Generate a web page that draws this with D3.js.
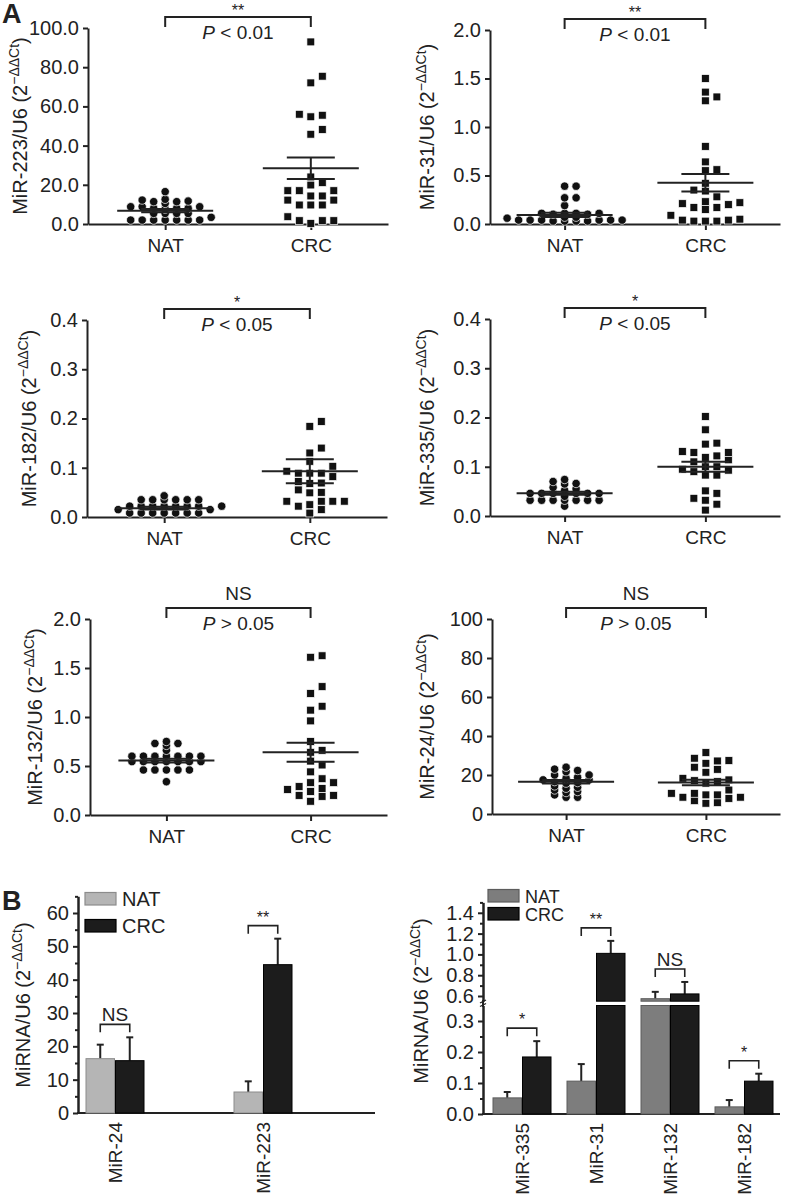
<!DOCTYPE html>
<html><head><meta charset="utf-8">
<script src="https://cdn.jsdelivr.net/npm/d3@7"></script>
<style>
body{margin:0;background:#fff}
svg{display:block}
text{font-family:"Liberation Sans",Arial,Helvetica,sans-serif;fill:#222}
</style>
</head><body>
<svg id="c" width="787" height="1198"></svg>
<script>
// ---------------- DATA ----------------
const categories = ["NAT", "CRC"];

// Panel A scatter data
const mir223NAT = [16.5,12.6,12.2,11.4,11.4,11.7,10.5,8.8,8.0,8.8,8.0,8.0,8.8,7.5,3.4,2.0,2.0,2.0,2.0,2.0,2.0,2.0,5.4,5.4,5.4,5.4];
const mir223CRC = [92.9,72.0,75.4,55.5,54.7,56.0,45.8,48.2,24.0,21.1,19.9,17.0,17.0,17.0,14.3,14.3,12.2,12.2,9.7,9.7,9.7,3.7,1.7,1.7,1.7,0.3];
const mir223Mean = [6.8, 28.4], mir223Sem = [0.8, 5.5];
const mir223Ticks = [0,20,40,60,80,100];

const mir31NAT = [0.39,0.39,0.27,0.27,0.19,0.11,0.11,0.10,0.11,0.10,0.11,0.07,0.06,0.07,0.04,0.04,0.03,0.04,0.03,0.04,0.03,0.04,0.03,0.04];
const mir31CRC = [1.50,1.31,1.27,1.36,0.80,0.64,0.55,0.56,0.42,0.35,0.34,0.28,0.22,0.21,0.17,0.15,0.17,0.20,0.23,0.09,0.04,0.03,0.03,0.03,0.04,0.05];
const mir31Mean = [0.093, 0.426], mir31Sem = [0.022, 0.09];
const mir31Ticks = [0,0.5,1.0,1.5,2.0];

const mir182NAT = [0.043,0.035,0.035,0.035,0.035,0.035,0.035,0.022,0.022,0.022,0.022,0.022,0.022,0.022,0.022,0.008,0.008,0.008,0.008,0.008,0.008,0.008,0.015,0.015];
const mir182CRC = [0.184,0.194,0.14,0.13,0.113,0.093,0.089,0.082,0.089,0.089,0.103,0.069,0.072,0.055,0.068,0.05,0.049,0.032,0.032,0.022,0.032,0.015,0.025,0.032,0.008];
const mir182Mean = [0.018, 0.093], mir182Sem = [0.003, 0.0245];
const mir182Ticks = [0,0.1,0.2,0.3,0.4];

const mir335NAT = [0.070,0.074,0.058,0.066,0.065,0.046,0.046,0.046,0.046,0.046,0.046,0.032,0.032,0.032,0.032,0.032,0.032,0.032,0.020,0.040,0.052,0.055];
const mir335CRC = [0.202,0.175,0.148,0.146,0.129,0.122,0.114,0.110,0.119,0.129,0.131,0.100,0.095,0.090,0.093,0.100,0.083,0.083,0.051,0.046,0.036,0.032,0.024,0.012];
const mir335Mean = [0.046, 0.100], mir335Sem = [0.003, 0.010];
const mir335Ticks = [0,0.1,0.2,0.3,0.4];

const mir132NAT = [0.73,0.71,0.75,0.66,0.73,0.60,0.60,0.60,0.60,0.60,0.60,0.60,0.545,0.545,0.545,0.545,0.545,0.545,0.545,0.46,0.46,0.46,0.46,0.46,0.34];
const mir132CRC = [1.625,1.61,1.31,1.24,1.11,1.07,0.96,0.75,0.66,0.64,0.55,0.51,0.44,0.37,0.33,0.24,0.27,0.20,0.26,0.29,0.33,0.14,0.19,0.20];
const mir132Mean = [0.555, 0.64], mir132Sem = [0.02, 0.097];
const mir132Ticks = [0,0.5,1.0,1.5,2.0];

const mir24NAT = [23,24,21.7,22.3,20,18.8,16.1,17.5,18.3,17.5,20,15.8,13.7,12.3,14.4,11.5,9.8,11,8.6,8.6,13.2,16.6];
const mir24CRC = [31.5,27.4,28.6,27.2,26,24,21.4,22.9,17.5,17.1,18.3,15.8,16.6,9.8,8.6,6.8,8.6,10.6,8.0,9.8,12.3,10.6,5.5,5.8];
const mir24Mean = [16.6, 16.2], mir24Sem = [0.9, 1.4];
const mir24Ticks = [0,20,40,60,80,100];

// Panel B bar data
const groupsB1 = ["MiR-24", "MiR-223"];
const natB1 = [16.3, 6.3], natErrB1 = [4.2, 3.2];
const crcB1 = [15.7, 44.5], crcErrB1 = [7.0, 7.8];
const sigB1 = ["NS", "**"];
const ticksB1 = [0,10,20,30,40,50,60];
const minorB1 = [5,15,25,35,45,55,65];

const groupsB2 = ["MiR-335", "MiR-31", "MiR-132", "MiR-182"];
const natB2 = [0.052, 0.106, 0.574, 0.023], natErrB2 = [0.019, 0.055, 0.066, 0.022];
const crcB2 = [0.184, 1.01, 0.62, 0.106], crcErrB2 = [0.051, 0.12, 0.115, 0.024];
const sigB2 = ["*", "**", "NS", "*"];
const ticksB2Low = [0,0.1,0.2,0.3], minorB2Low = [0.05,0.15,0.25];
const ticksB2High = [0.6,0.8,1.0,1.2,1.4], minorB2High = [0.7,0.9,1.1,1.3,1.5];

// ---------------- DRAWING ----------------
const svg = d3.select("#c");
const INK = "#222";

function styleAxis(g, fs) {
  g.attr("font-family", '"Liberation Sans",Arial,sans-serif').attr("font-size", fs);
  g.select(".domain").attr("stroke", INK).attr("stroke-width", 2);
  g.selectAll(".tick line").attr("stroke", INK).attr("stroke-width", 2);
  g.selectAll(".tick text").attr("fill", INK);
}

function yLabel(cx, cy, name) {
  const t = svg.append("text")
    .attr("transform", `translate(${cx + 7},${cy}) rotate(-90)`)
    .attr("text-anchor", "middle").attr("font-size", 20);
  t.append("tspan").text(name + " (2");
  t.append("tspan").attr("font-size", 14).attr("dy", -8).text("\u2212\u0394\u0394Ct");
  t.append("tspan").attr("dy", 8).text(")");
}

function swarm(values, y, cx, step, dyTol) {
  const pts = values.map(v => ({v, y: y(v)})).sort((a, b) => a.v - b.v);
  const placed = [];
  const half = step / 2;
  pts.forEach(p => {
    p.off = 0;
    for (let k = 0; k < 80; k++) {
      const m = Math.ceil(k / 2) * (k % 2 === 1 ? 1 : -1);
      const off = m * half;
      const ok = placed.every(q => Math.abs(q.off - off) >= step - 0.01 || Math.abs(q.y - p.y) >= dyTol);
      if (ok) { p.off = off; break; }
    }
    placed.push(p);
  });
  return pts.map(p => ({v: p.v, x: cx + p.off, y: p.y}));
}

function scatterPanel(o) {
  const L = o.layout;
  const y = d3.scaleLinear().domain([0, o.ticks[o.ticks.length - 1]]).range([L.y0, L.yTop]);
  const x = d3.scalePoint().domain(categories).range([L.ax, L.xEnd]).padding(0.53);

  const ya = svg.append("g").attr("transform", `translate(${L.ax},0)`)
    .call(d3.axisLeft(y).tickValues(o.ticks).tickFormat(o.fmt).tickSize(5).tickSizeOuter(0).tickPadding(4));
  styleAxis(ya, 20);
  const xa = svg.append("g").attr("transform", `translate(0,${L.y0})`)
    .call(d3.axisBottom(x).tickSize(6).tickSizeOuter(0).tickPadding(9));
  styleAxis(xa, 19);

  yLabel(L.labX, (L.y0 + L.yTop) / 2, o.name);

  const groups = [o.nat, o.crc];
  groups.forEach((vals, i) => {
    const cx = x(categories[i]);
    const pts = swarm(vals, y, cx, 11.5, i === 0 ? 3.6 : 7);
    if (i === 0) {
      svg.append("g").selectAll("circle").data(pts).join("circle")
        .attr("cx", d => d.x).attr("cy", d => d.y).attr("r", 4.2)
        .attr("fill", "#111").attr("stroke", "#fff").attr("stroke-width", 0.7);
    } else {
      svg.append("g").selectAll("rect").data(pts).join("rect")
        .attr("x", d => d.x - 3.9).attr("y", d => d.y - 3.9).attr("width", 7.8).attr("height", 7.8)
        .attr("fill", "#111").attr("stroke", "#fff").attr("stroke-width", 0.7);
    }
    const m = o.mean[i], s = o.sem[i];
    const g = svg.append("g").attr("stroke", INK).attr("stroke-width", 2).attr("fill", "none");
    g.append("line").attr("x1", cx - 48).attr("x2", cx + 48).attr("y1", y(m)).attr("y2", y(m));
    g.append("line").attr("x1", cx).attr("x2", cx).attr("y1", y(m - s)).attr("y2", y(m + s));
    [m - s, m + s].forEach(v => g.append("line").attr("x1", cx - 24).attr("x2", cx + 24).attr("y1", y(v)).attr("y2", y(v)));
  });

  // significance bracket
  const x1 = x("NAT"), x2 = x("CRC"), top = L.yTop - 11;
  svg.append("path").attr("d", `M${x1},${L.yTop - 1}V${top}H${x2}V${L.yTop - 1}`)
    .attr("fill", "none").attr("stroke", INK).attr("stroke-width", 2);
  const isNS = o.sig === "NS";
  svg.append("text").attr("x", (x1 + x2) / 2).attr("y", isNS ? top - 8 : top - 1)
    .attr("text-anchor", "middle").attr("font-size", isNS ? 19 : 16).text(o.sig);
  const pt = svg.append("text").attr("x", (x1 + x2) / 2).attr("y", L.yTop + 11)
    .attr("text-anchor", "middle").attr("font-size", 19);
  pt.append("tspan").attr("font-style", "italic").text("P");
  pt.append("tspan").text(o.ptext);
}

const f1 = d3.format(".1f"), f0 = d3.format("d");
scatterPanel({name: "MiR-223/U6", nat: mir223NAT, crc: mir223CRC, mean: mir223Mean, sem: mir223Sem, ticks: mir223Ticks, fmt: f1, sig: "**", ptext: " < 0.01",
  layout: {ax: 88, xEnd: 388, yTop: 28, y0: 224, labX: 20}});
scatterPanel({name: "MiR-31/U6", nat: mir31NAT, crc: mir31CRC, mean: mir31Mean, sem: mir31Sem, ticks: mir31Ticks, fmt: f1, sig: "**", ptext: " < 0.01",
  layout: {ax: 490, xEnd: 780, yTop: 30, y0: 224, labX: 427}});
scatterPanel({name: "MiR-182/U6", nat: mir182NAT, crc: mir182CRC, mean: mir182Mean, sem: mir182Sem, ticks: mir182Ticks, fmt: f1, sig: "*", ptext: " < 0.05",
  layout: {ax: 87, xEnd: 387, yTop: 320, y0: 517, labX: 29}});
scatterPanel({name: "MiR-335/U6", nat: mir335NAT, crc: mir335CRC, mean: mir335Mean, sem: mir335Sem, ticks: mir335Ticks, fmt: f1, sig: "*", ptext: " < 0.05",
  layout: {ax: 490, xEnd: 780, yTop: 319, y0: 516, labX: 427}});
scatterPanel({name: "MiR-132/U6", nat: mir132NAT, crc: mir132CRC, mean: mir132Mean, sem: mir132Sem, ticks: mir132Ticks, fmt: f1, sig: "NS", ptext: " > 0.05",
  layout: {ax: 90, xEnd: 387, yTop: 619, y0: 815, labX: 35}});
scatterPanel({name: "MiR-24/U6", nat: mir24NAT, crc: mir24CRC, mean: mir24Mean, sem: mir24Sem, ticks: mir24Ticks, fmt: f0, sig: "NS", ptext: " > 0.05",
  layout: {ax: 492, xEnd: 780, yTop: 619, y0: 814, labX: 427}});

// ---------- Panel B ----------
function barGroup(o) {
  const cols = [{vals: o.nat, err: o.natErr, fill: o.natFill, stroke: o.natStroke, c: "NAT"},
                {vals: o.crc, err: o.crcErr, fill: "#1c1c1c", stroke: "#000", c: "CRC"}];
  cols.forEach(col => {
    o.groups.forEach((g, i) => {
      const bx = o.gx(g) + o.inner(col.c), bw = o.inner.bandwidth();
      const v = col.vals[i], e = col.err[i];
      const cx = bx + bw / 2;
      svg.append("line").attr("x1", cx).attr("x2", cx).attr("y1", o.yv(v)).attr("y2", o.yv(v + e))
        .attr("stroke", INK).attr("stroke-width", 2);
      svg.append("line").attr("x1", cx - 3.5).attr("x2", cx + 3.5).attr("y1", o.yv(v + e)).attr("y2", o.yv(v + e))
        .attr("stroke", INK).attr("stroke-width", 2);
      o.bars(v).forEach(([ya, yb]) => {
        svg.append("rect").attr("x", bx + 0.5).attr("width", bw - 1).attr("y", ya).attr("height", yb - ya)
          .attr("fill", col.fill).attr("stroke", col.stroke).attr("stroke-width", 1);
      });
    });
  });
  o.groups.forEach((g, i) => {
    const c1 = o.gx(g) + o.inner("NAT") + o.inner.bandwidth() / 2;
    const c2 = o.gx(g) + o.inner("CRC") + o.inner.bandwidth() / 2;
    const yt = Math.min(o.yv(o.nat[i] + o.natErr[i]), o.yv(o.crc[i] + o.crcErr[i]));
    const top = yt - 13, end = yt - 5;
    svg.append("path").attr("d", `M${c1},${end}V${top}H${c2}V${end}`)
      .attr("fill", "none").attr("stroke", INK).attr("stroke-width", 1.6);
    const isNS = o.sig[i] === "NS";
    svg.append("text").attr("x", (c1 + c2) / 2).attr("y", top - 3).attr("text-anchor", "middle")
      .attr("font-size", isNS ? 19 : 16).text(o.sig[i]);
    svg.append("text").attr("transform", `translate(${o.gx(g) + 7},${o.y0 + 9}) rotate(-90)`)
      .attr("text-anchor", "end").attr("font-size", 19).text(g);
  });
}

function legend(x, yN, yC, natFill, natStroke, fs) {
  [[yN, natFill, natStroke, "NAT"], [yC, "#1c1c1c", "#000", "CRC"]].forEach(([yy, f, s, t]) => {
    svg.append("rect").attr("x", x).attr("y", yy).attr("width", 31).attr("height", 12.5)
      .attr("fill", f).attr("stroke", s).attr("stroke-width", 1.2);
    svg.append("text").attr("x", x + 37).attr("y", yy + 13.5).attr("font-size", fs).text(t);
  });
}

// B left
{
  const y0 = 1113;
  const y = d3.scaleLinear().domain([0, 65]).range([y0, y0 - 65 * (200 / 60)]);
  const a = svg.append("g").attr("transform", "translate(78,0)")
    .call(d3.axisLeft(y).tickValues(ticksB1).tickFormat(f0).tickSize(5).tickSizeOuter(0).tickPadding(4));
  styleAxis(a, 20);
  const am = svg.append("g").attr("transform", "translate(78,0)")
    .call(d3.axisLeft(y).tickValues(minorB1).tickFormat("").tickSize(3).tickSizeOuter(0));
  styleAxis(am, 20);
  svg.append("line").attr("x1", 77).attr("x2", 375).attr("y1", y0).attr("y2", y0).attr("stroke", INK).attr("stroke-width", 2);
  const gx = d3.scalePoint().domain(groupsB1).range([115, 263]);
  const inner = d3.scaleBand().domain(categories).range([-29.5, 29.5]);
  barGroup({groups: groupsB1, nat: natB1, natErr: natErrB1, crc: crcB1, crcErr: crcErrB1, sig: sigB1,
    gx, inner, yv: y, y0, bars: v => [[y(v), y0]], natFill: "#b5b5b5", natStroke: "#8c8c8c"});
  legend(85, 892.5, 919.5, "#b5b5b5", "#8c8c8c", 20);
  yLabel(23, 1005, "MiRNA/U6");
}

// B right (broken axis)
{
  const y0 = 1114;
  const low = d3.scaleLinear().domain([0, 0.35]).range([y0, y0 - 0.35 * 310]);
  const high = d3.scaleLinear().domain([0.55, 1.5]).range([1001.2, 1001.2 - 0.95 * 104]);
  const yv = v => v <= 0.35 ? low(v) : (v >= 0.55 ? high(v) : 1003.3);
  const ax = 483;
  [[low, ticksB2Low, minorB2Low], [high, ticksB2High, minorB2High]].forEach(([sc, tk, mn]) => {
    const a = svg.append("g").attr("transform", `translate(${ax},0)`)
      .call(d3.axisLeft(sc).tickValues(tk).tickFormat(f1).tickSize(5).tickSizeOuter(0).tickPadding(4));
    styleAxis(a, 20);
    const m = svg.append("g").attr("transform", `translate(${ax},0)`)
      .call(d3.axisLeft(sc).tickValues(mn).tickFormat("").tickSize(3).tickSizeOuter(0));
    styleAxis(m, 20);
  });
  svg.append("line").attr("x1", ax).attr("x2", ax).attr("y1", 1000).attr("y2", 1007).attr("stroke", INK).attr("stroke-width", 2);
  [1001.5, 1005].forEach(yy => svg.append("line").attr("x1", ax - 3).attr("x2", ax + 3).attr("y1", yy + 1.5).attr("y2", yy - 1.5)
    .attr("stroke", INK).attr("stroke-width", 1.3));
  svg.append("line").attr("x1", ax - 1).attr("x2", 780).attr("y1", y0).attr("y2", y0).attr("stroke", INK).attr("stroke-width", 2);
  const gx = d3.scalePoint().domain(groupsB2).range([522, 744]);
  const inner = d3.scaleBand().domain(categories).range([-29.5, 29.5]);
  const bars = v => v <= 0.35 ? [[low(v), y0]] : [[low(0.35), y0], [high(v), high(0.55)]];
  barGroup({groups: groupsB2, nat: natB2, natErr: natErrB2, crc: crcB2, crcErr: crcErrB2, sig: sigB2,
    gx, inner, yv, y0, bars, natFill: "#7d7d7d", natStroke: "#5c5c5c"});
  legend(488, 889.5, 907.5, "#7d7d7d", "#5c5c5c", 18);
  yLabel(421, 1001, "MiRNA/U6");
}

// panel letters
svg.append("text").attr("x", 2).attr("y", 23).attr("font-size", 27).attr("font-weight", "bold").text("A");
svg.append("text").attr("x", 2).attr("y", 910).attr("font-size", 27).attr("font-weight", "bold").text("B");
</script>
</body></html>
